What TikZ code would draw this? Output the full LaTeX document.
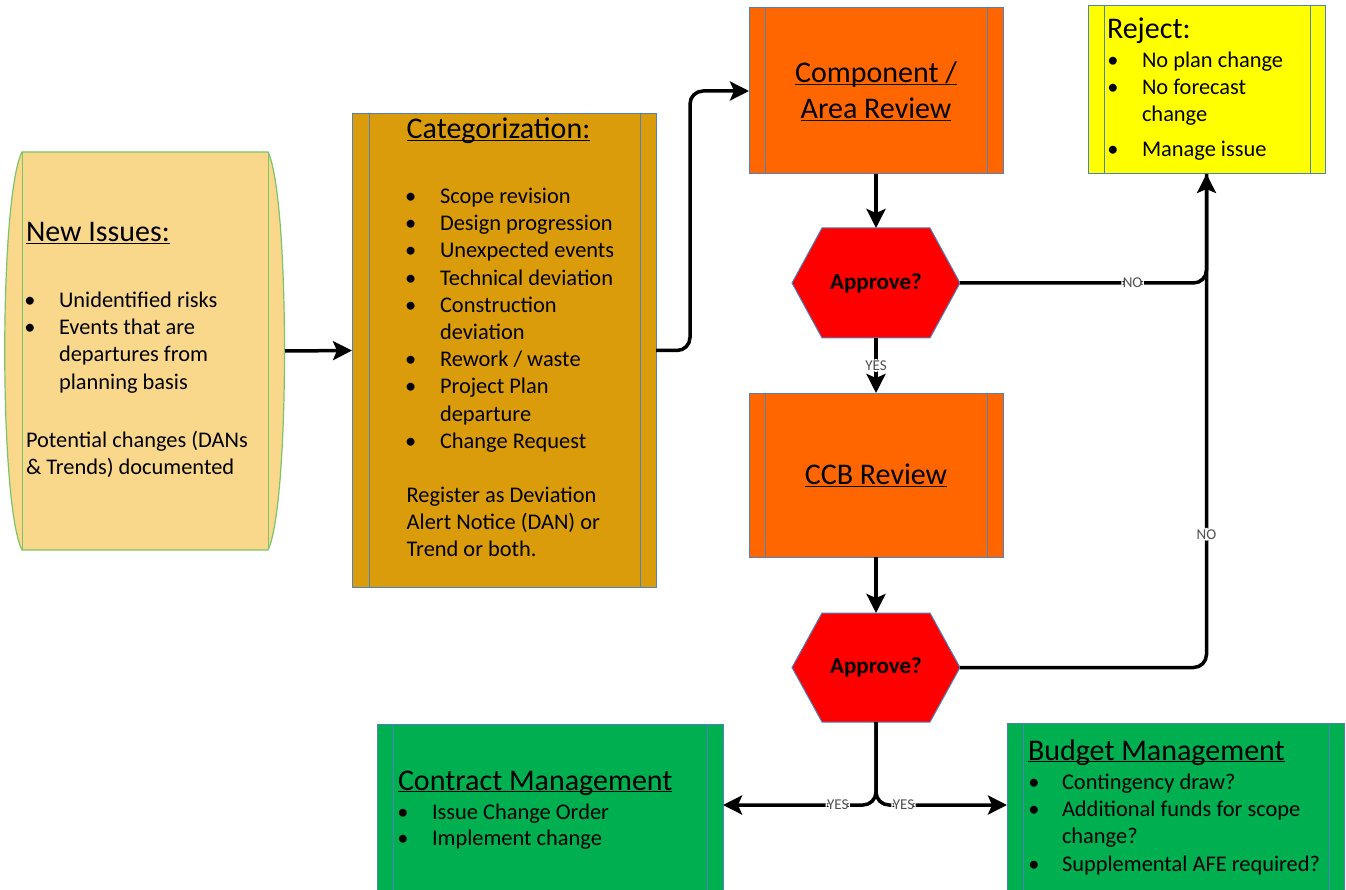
\documentclass[tikz,border=0pt]{standalone}
\usepackage{fontspec}
\setmainfont{Carlito}
\usetikzlibrary{arrows.meta,calc,backgrounds}
\definecolor{nifill}{HTML}{F9D88C}
\definecolor{niedge}{HTML}{7CC46A}
\definecolor{catfill}{HTML}{DA9C0A}
\definecolor{edge}{HTML}{4F81BD}
\definecolor{orng}{HTML}{FF6600}
\definecolor{ylw}{HTML}{FFFF00}
\definecolor{grn}{HTML}{00B050}
\definecolor{rd}{HTML}{FF0000}
\definecolor{lblgray}{HTML}{505050}
\newcommand\myul[1]{\underline{\raisebox{0pt}[\height][0pt]{#1}}}
\newcommand\tline[4]{\node[tx,anchor=base west] (#1) at (#2,#3) {#4};}
\newcommand\ttline[4]{\node[ttl,anchor=base west] (#1) at (#2,#3) {#4};}
\newcommand\bline[5]{\node[tx,anchor=base] (#1b) at (#2,#4) {•};\node[tx,anchor=base west] (#1) at (#3,#4) {#5};}
\newcommand\innerlines[4]{%
  \draw[#4, line width=1pt] ($(#1.north west)+(#2,0)$) -- ($(#1.south west)+(#2,0)$);
  \draw[#4, line width=1pt] ($(#1.north east)+(-#3,0)$) -- ($(#1.south east)+(-#3,0)$);}
\newcommand\hexshape[2]{%
  \filldraw[fill=rd, draw=edge, line width=1pt] (#1.west) -- ($(#1.north west)+(#2,0)$) -- ($(#1.north east)+(-#2,0)$) -- (#1.east) -- ($(#1.south east)+(-#2,0)$) -- ($(#1.south west)+(#2,0)$) -- cycle;}
\tikzset{
  procbox/.style={rectangle, draw=edge, line width=1pt, inner sep=0pt, outer sep=0pt},
  tx/.style={inner sep=0pt, outer sep=0pt, font=\fontsize{22.4}{27.2}\selectfont},
  ttl/.style={inner sep=0pt, outer sep=0pt, font=\fontsize{30}{36.6}\selectfont},
  hexbox/.style={rectangle, draw=none, inner sep=0pt, outer sep=0pt, font=\fontsize{23}{26}\selectfont\bfseries},
  flow/.style={line width=3.5pt, rounded corners=13pt},
  arr/.style={-{Stealth[length=19pt,width=19pt,inset=4pt]}},
  lbl/.style={font=\fontsize{15}{17}\selectfont, fill=white, inner sep=1.5pt, text=lblgray},
}
\begin{document}
\begin{tikzpicture}[x=1pt,y=-1pt]
\useasboundingbox (0,0) rectangle (1346,890);
\begin{pgfonlayer}{background}
\fill[white] (0,0) rectangle (1346,890);
\end{pgfonlayer}

% ---------- New Issues ----------
\node[rectangle, draw=none, inner sep=0pt, outer sep=0pt, minimum width=281pt, minimum height=398pt] (new) at (144.5,351) {};
\begin{pgfonlayer}{background}
\filldraw[fill=nifill, draw=niedge, line width=1.2pt]
  ($(new.north west)+(18,0)$) -- ($(new.north east)+(-17,0)$)
  .. controls ($(new.north east)+(5,45)$) and ($(new.south east)+(5,-45)$) .. ($(new.south east)+(-17,0)$)
  -- ($(new.south west)+(18,0)$)
  .. controls ($(new.south west)+(-5,-45)$) and ($(new.north west)+(-5,45)$) .. cycle;
\end{pgfonlayer}
\innerlines{new}{18}{17}{niedge}
\ttline{nit}{26}{242}{\myul{New Issues:}}
\bline{ni1}{30}{59}{308}{Unidentified risks}
\bline{ni2}{30}{59}{335}{Events that are}
\tline{ni3}{59}{362}{departures from}
\tline{ni4}{59}{389}{planning basis}
\tline{ni5}{26}{447}{Potential changes (DANs}
\tline{ni6}{26}{474}{\& Trends) documented}

% ---------- Categorization ----------
\node[procbox, fill=catfill, minimum width=304pt, minimum height=473pt] (cat) at (504,350.5) {};
\innerlines{cat}{17}{16}{edge}
\ttline{catt}{406.7}{138.5}{\myul{Categorization:}}
\bline{c1}{410.7}{440}{203.5}{Scope revision}
\bline{c2}{410.7}{440}{230.7}{Design progression}
\bline{c3}{410.7}{440}{257.9}{Unexpected events}
\bline{c4}{410.7}{440}{285.1}{Technical deviation}
\bline{c5}{410.7}{440}{312.3}{Construction}
\tline{c6}{440}{339.5}{deviation}
\bline{c7}{410.7}{440}{366.7}{Rework / waste}
\bline{c8}{410.7}{440}{393.9}{Project Plan}
\tline{c9}{440}{421.1}{departure}
\bline{c10}{410.7}{440}{448.3}{Change Request}
\tline{c11}{406.7}{502.2}{Register as Deviation}
\tline{c12}{406.7}{529.4}{Alert Notice (DAN) or}
\tline{c13}{406.7}{556.6}{Trend or both.}

% ---------- Component / Area Review ----------
\node[procbox, fill=orng, minimum width=254pt, minimum height=166pt, align=center, font=\fontsize{30}{36}\selectfont] (comp) at (876,91) {\myul{Component /}\\\myul{Area Review}};
\innerlines{comp}{16}{16}{edge}

% ---------- Reject ----------
\node[procbox, fill=ylw, minimum width=237pt, minimum height=168pt] (rej) at (1206.5,90) {};
\innerlines{rej}{16}{15}{edge}
\ttline{rejt}{1107}{39}{Reject:}
\bline{r1}{1113}{1142}{68}{No plan change}
\bline{r2}{1113}{1142}{95}{No forecast}
\tline{r3}{1142}{122}{change}
\bline{r4}{1113}{1142}{157}{Manage issue}

% ---------- Approve 1 ----------
\node[hexbox, minimum width=168pt, minimum height=110pt] (a1) at (876,283) {Approve?};
\begin{pgfonlayer}{background}\hexshape{a1}{30}\end{pgfonlayer}

% ---------- CCB Review ----------
\node[procbox, fill=orng, minimum width=254pt, minimum height=164pt, font=\fontsize{30}{36}\selectfont] (ccb) at (876,475) {\myul{CCB Review}};
\innerlines{ccb}{16}{16}{edge}

% ---------- Approve 2 ----------
\node[hexbox, minimum width=168pt, minimum height=109pt] (a2) at (876,667.5) {Approve?};
\begin{pgfonlayer}{background}\hexshape{a2}{30}\end{pgfonlayer}

% ---------- Contract Management ----------
\node[procbox, fill=grn, minimum width=346pt, minimum height=172pt] (con) at (550,810) {};
\innerlines{con}{16}{16}{edge}
\ttline{cont}{398}{790}{\myul{Contract Management}}
\bline{cm1}{403}{432}{819}{Issue Change Order}
\bline{cm2}{403}{432}{845}{Implement change}

% ---------- Budget Management ----------
\node[procbox, fill=grn, minimum width=337pt, minimum height=172pt] (bud) at (1175.5,809) {};
\innerlines{bud}{16}{15}{edge}
\ttline{budt}{1028}{760}{\myul{Budget Management}}
\bline{bm1}{1034}{1062}{789}{Contingency draw?}
\bline{bm2}{1034}{1062}{816}{Additional funds for scope}
\tline{bm3}{1062}{843}{change?}
\bline{bm4}{1034}{1062}{871}{Supplemental AFE required?}

% ---------- Connectors ----------
\coordinate (split) at (876,805);
\draw[flow,arr] (new.east) -- (cat.west);
\draw[flow,arr] (cat.east) -- ++(34,0) |- (comp.west);
\draw[flow,arr] (comp.south) -- (a1.north);
\draw[flow,arr] (a1.south) -- node[lbl]{YES} (ccb.north);
\draw[flow,arr] (ccb.south) -- (a2.north);
\draw[flow] (a1.east) -| node[lbl,pos=0.35]{NO} (rej.south);
\draw[flow,arr] (a2.east) -| node[lbl,pos=0.635]{NO} (rej.south);
\draw[flow,arr] (a2.south) |- node[lbl,pos=0.625]{YES} (split -| con.east);
\draw[flow,arr] (a2.south) |- node[lbl,pos=0.605]{YES} (split -| bud.west);
\end{tikzpicture}
\end{document}
